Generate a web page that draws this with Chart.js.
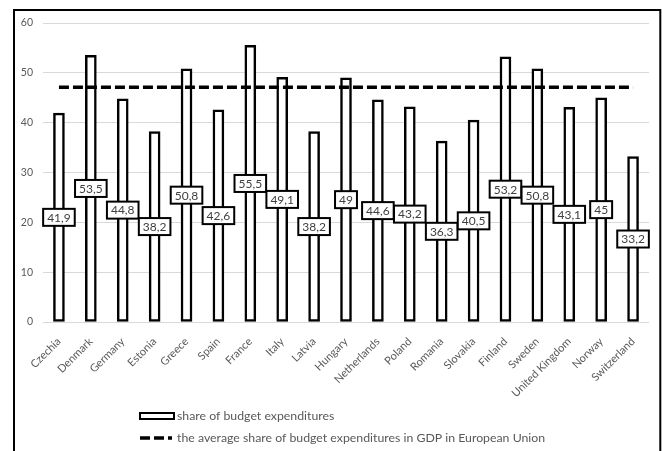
<!DOCTYPE html>
<html>
<head>
<meta charset="utf-8">
<script src="https://cdn.jsdelivr.net/npm/chart.js@4/dist/chart.umd.min.js"></script>
<style>
  html, body { margin: 0; padding: 0; background: #ffffff; }
  #wrap { width: 662px; height: 451px; position: relative; }
</style>
</head>
<body>
<div id="wrap"><canvas id="chart" width="662" height="451"></canvas></div>
<script>
const countries = ["Czechia", "Denmark", "Germany", "Estonia", "Greece", "Spain", "France", "Italy",
  "Latvia", "Hungary", "Netherlands", "Poland", "Romania", "Slovakia", "Finland", "Sweden",
  "United Kingdom", "Norway", "Switzerland"];
const budgetShare = [41.9, 53.5, 44.8, 38.2, 50.8, 42.6, 55.5, 49.1, 38.2, 49, 44.6, 43.2, 36.3,
  40.5, 53.2, 50.8, 43.1, 45, 33.2];
const euAverage = 47.1;
const euAverageLine = countries.map(() => euAverage);
const yTicks = [0, 10, 20, 30, 40, 50, 60];
const seriesNames = ["share of budget expenditures",
  "the average share of budget expenditures in GDP in European Union"];

const FONT = "Lato, 'Liberation Sans', sans-serif";
const TEXT_GRAY = "#595959";

// comma as decimal separator
const fmt = v => String(v).replace(".", ",");

// outer frame around the whole figure
const framePlugin = {
  id: "frame",
  afterDraw(chart) {
    const ctx = chart.ctx;
    ctx.save();
    ctx.strokeStyle = "#000";
    ctx.lineWidth = 2;
    ctx.strokeRect(14, 10, 646.3, 470);
    ctx.restore();
  }
};

// boxed value labels centred on each bar
const valueLabels = {
  id: "valueLabels",
  afterDatasetsDraw(chart) {
    const meta = chart.getDatasetMeta(0);
    const ctx = chart.ctx;
    ctx.save();
    ctx.font = "12px " + FONT;
    ctx.textAlign = "center";
    ctx.textBaseline = "middle";
    meta.data.forEach((bar, i) => {
      const text = fmt(chart.data.datasets[0].data[i]);
      const tw = ctx.measureText(text).width;
      const w = tw + 8, h = 17;
      const cx = bar.x, cy = (bar.y + bar.base) / 2;
      ctx.fillStyle = "#fff";
      ctx.fillRect(cx - w / 2, cy - h / 2, w, h);
      ctx.strokeStyle = "#000";
      ctx.lineWidth = 2;
      ctx.strokeRect(cx - w / 2, cy - h / 2, w, h);
      ctx.fillStyle = "#404040";
      ctx.fillText(text, cx, cy + 0.5);
    });
    ctx.restore();
  }
};

// stacked legend under the axis labels
const stackedLegend = {
  id: "stackedLegend",
  afterDraw(chart) {
    const ctx = chart.ctx;
    const x0 = 140, tx = 177;
    const rows = [416, 438];
    ctx.save();
    // bar key
    ctx.fillStyle = "#fff";
    ctx.fillRect(x0, rows[0] - 3, 34, 6);
    ctx.strokeStyle = "#000";
    ctx.lineWidth = 2;
    ctx.strokeRect(x0, rows[0] - 3, 34, 6);
    // dashed key
    ctx.beginPath();
    ctx.setLineDash([10, 4]);
    ctx.lineWidth = 3.5;
    ctx.moveTo(x0, rows[1]);
    ctx.lineTo(x0 + 32, rows[1]);
    ctx.stroke();
    ctx.setLineDash([]);
    ctx.font = "12.3px " + FONT;
    ctx.fillStyle = TEXT_GRAY;
    ctx.textAlign = "left";
    ctx.textBaseline = "middle";
    chart.data.datasets.forEach((ds, i) => ctx.fillText(ds.label, tx, rows[i]));
    ctx.restore();
  }
};

new Chart(document.getElementById("chart"), {
  data: {
    labels: countries,
    datasets: [
      {
        type: "bar",
        label: seriesNames[0],
        data: budgetShare,
        backgroundColor: "#ffffff",
        borderColor: "#000000",
        borderWidth: 2.5,
        borderSkipped: false,
        barThickness: 11,
        order: 1
      },
      {
        type: "line",
        label: seriesNames[1],
        data: euAverageLine,
        borderColor: "#000000",
        borderWidth: 3.5,
        borderDash: [10, 4],
        pointRadius: 0,
        fill: false,
        order: 0
      }
    ]
  },
  options: {
    responsive: false,
    animation: false,
    layout: { padding: { left: 15, right: 13, top: 23, bottom: 0 } },
    plugins: {
      legend: { display: false },
      tooltip: { enabled: false }
    },
    scales: {
      x: {
        grid: { display: false },
        border: { display: false },
        ticks: {
          autoSkip: false,
          maxRotation: 45,
          minRotation: 45,
          padding: 5,
          color: TEXT_GRAY,
          font: { family: FONT, size: 11 }
        },
        afterFit(scale) { scale.height = 129; }
      },
      y: {
        min: 0,
        max: 60,
        afterBuildTicks(scale) { scale.ticks = yTicks.map(v => ({ value: v })); },
        grid: { color: "#d9d9d9", lineWidth: 1, drawTicks: false },
        border: { display: false },
        ticks: {
          padding: 10,
          color: TEXT_GRAY,
          font: { family: FONT, size: 10.5 }
        },
        afterFit(scale) { scale.width = 28; }
      }
    }
  },
  plugins: [framePlugin, valueLabels, stackedLegend]
});
</script>
</body>
</html>
